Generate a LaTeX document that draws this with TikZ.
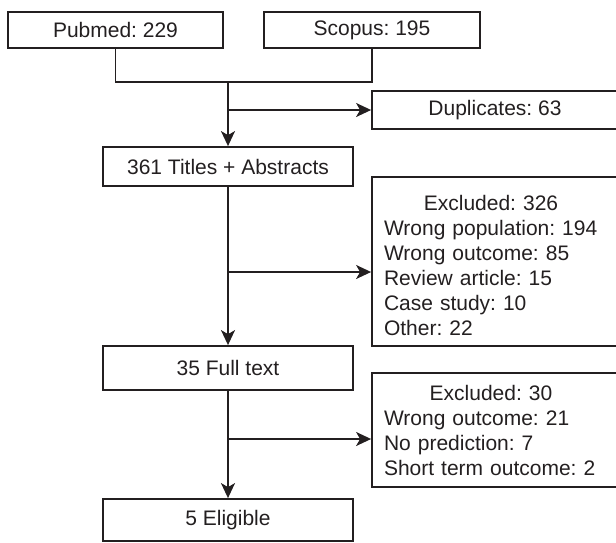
\documentclass[tikz,border=0pt]{standalone}
\usepackage{fontspec}
\setmainfont{Liberation Sans}
\frenchspacing
\usetikzlibrary{arrows.meta}
\definecolor{ink}{HTML}{231F20}
\tikzset{
  box/.style={draw=ink, line width=1.8pt, rectangle, inner sep=0pt, text=ink,
    font=\fontsize{21}{25}\selectfont\frenchspacing},
  listbox/.style={box, align=left, text width=221pt, inner xsep=12pt},
  arr/.style={draw=ink, line width=1.8pt, -{Stealth[length=15pt,width=14pt,inset=4pt]}},
  conn/.style={draw=ink, line width=1.8pt}
}
\begin{document}
\begin{tikzpicture}[x=1pt,y=-1pt]
\useasboundingbox (0,0) rectangle (616,542);
\node[box, minimum width=215pt, minimum height=36pt] (pub) at (115.5,30) {Pubmed: 229};
\node[box, minimum width=216pt, minimum height=36pt] (sco) at (372,30) {Scopus: 195};
\node[box, minimum width=246pt, minimum height=38pt] (dup) at (495,110) {Duplicates: 63};
\node[box, minimum width=250pt, minimum height=39pt] (tit) at (228,166.5) {361 Titles + Abstracts};
\node[listbox, minimum width=245pt, minimum height=169pt] (ex1) at (494.5,261.5)
  {\rule{0pt}{23pt}\makebox[214pt]{Excluded: 326}\\
   Wrong population: 194\\
   Wrong outcome: 85\\
   Review article: 15\\
   Case study: 10\\
   Other: 22};
\node[box, minimum width=250pt, minimum height=44pt] (ft) at (228,368) {35 Full text};
\node[listbox, minimum width=245pt, minimum height=114pt] (ex2) at (494.5,430)
  {\makebox[214pt]{Excluded: 30}\\
   Wrong outcome: 21\\
   No prediction: 7\\
   Short term outcome: 2};
\node[box, minimum width=250pt, minimum height=42pt] (el) at (228,520) {5 Eligible};
\coordinate (j) at (228,82);
\coordinate (d1) at (228,110);
\coordinate (e1) at (228,272);
\coordinate (e2) at (228,439);
\draw[conn] (pub.south) |- (j) -| (sco.south);
\draw[arr] (j) -- (tit.north);
\draw[arr] (d1) -- (dup.west);
\draw[arr] (tit.south) -- (ft.north);
\draw[arr] (e1) -- (e1 -| ex1.west);
\draw[arr] (ft.south) -- (el.north);
\draw[arr] (e2) -- (e2 -| ex2.west);
\end{tikzpicture}
\end{document}
